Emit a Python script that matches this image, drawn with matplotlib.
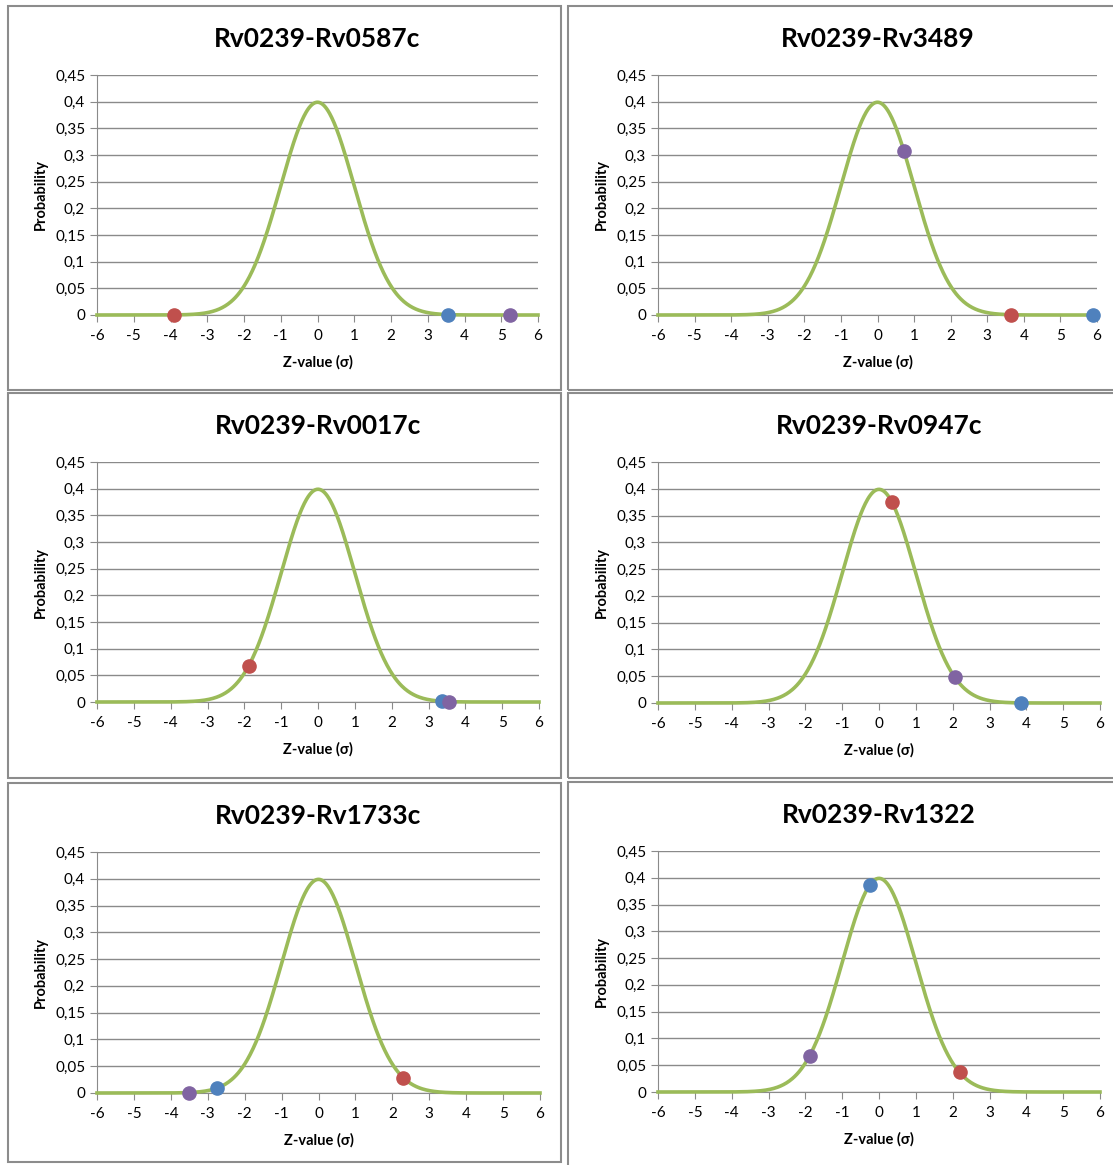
import numpy as np
import matplotlib
matplotlib.use("Agg")
import matplotlib.pyplot as plt
from matplotlib.patches import Rectangle

plt.rcParams["font.family"] = ["Lato", "DejaVu Sans"]

W, H = 1113, 1165

# panel titles, in reading order (row by row)
titles = ["Rv0239-Rv0587c", "Rv0239-Rv3489", "Rv0239-Rv0017c",
          "Rv0239-Rv0947c", "Rv0239-Rv1733c", "Rv0239-Rv1322"]

# dots: z-value and probability, per colour
blue_z   = [3.55, 5.90, 3.38, 3.85, -2.75, -0.25]
blue_p   = [0.000, 0.000, 0.002, 0.000, 0.009, 0.386]
red_z    = [-3.90, 3.65, -1.88, 0.35, 2.30, 2.20]
red_p    = [0.000, 0.000, 0.068, 0.375, 0.028, 0.038]
purple_z = [5.25, 0.73, 3.55, 2.05, -3.50, -1.87]
purple_p = [0.000, 0.307, 0.000, 0.048, 0.000, 0.068]

yticks = [0, 0.05, 0.1, 0.15, 0.2, 0.25, 0.3, 0.35, 0.4, 0.45]
ytick_labels = ["0", "0,05", "0,1", "0,15", "0,2", "0,25", "0,3", "0,35", "0,4", "0,45"]
xticks = [-6, -5, -4, -3, -2, -1, 0, 1, 2, 3, 4, 5, 6]

GREEN, BLUE, RED, PURPLE = "#9BBB59", "#4F81BD", "#C0504D", "#8064A2"

# pixel boxes: frame (x0, y0, x1, y1) and plot area (x_left, x_right, y_top, y_bottom)
frames = [(8, 6, 561, 390), (568, 6, 1118, 390),
          (8, 393, 561, 778), (568, 393, 1118, 778),
          (8, 783, 561, 1162), (568, 782, 1118, 1170)]
areas = [(97, 538, 75, 315), (658, 1097, 75, 315),
         (97, 539, 462, 702), (658, 1100, 462, 703),
         (97, 540, 852, 1093), (658, 1100, 851, 1092)]

# standard normal density (the curve every panel shows)
z = np.linspace(-6, 6, 600)
pdf = np.exp(-z ** 2 / 2) / np.sqrt(2 * np.pi)

fig = plt.figure(figsize=(W / 100, H / 100), dpi=100)

for i, t in enumerate(titles):
    fx0, fy0, fx1, fy1 = frames[i]
    fig.add_artist(Rectangle((fx0 / W, 1 - fy1 / H), (fx1 - fx0) / W, (fy1 - fy0) / H,
                             transform=fig.transFigure, fill=False, ec="#8c8c8c", lw=1.5))
    xl, xr, yt, yb = areas[i]
    ax = fig.add_axes([xl / W, 1 - yb / H, (xr - xl) / W, (yb - yt) / H])
    ax.set_xlim(-6, 6); ax.set_ylim(0, 0.45)
    ax.set_yticks(yticks); ax.set_yticklabels(ytick_labels)
    ax.set_xticks(xticks); ax.set_xticklabels([str(v) for v in xticks])
    ax.grid(axis="y", color="#8a8a8a", lw=1)
    ax.set_axisbelow(True)
    for s in ["top", "right"]:
        ax.spines[s].set_visible(False)
    for s in ["left", "bottom"]:
        ax.spines[s].set_color("#8a8a8a")
    ax.tick_params(axis="both", colors="#8a8a8a", labelcolor="black", labelsize=11,
                   length=5, direction="out")
    ax.tick_params(axis="x", pad=5)
    ax.plot(z, pdf, color=GREEN, lw=2.6, clip_on=False, zorder=3)
    for zs, ps, c in [(blue_z, blue_p, BLUE), (red_z, red_p, RED), (purple_z, purple_p, PURPLE)]:
        ax.plot(zs[i], ps[i], "o", color=c, ms=9.5, mec=c, clip_on=False, zorder=4)
    ax.set_xlabel("Z-value (σ)", fontsize=10.5, fontweight="bold", labelpad=9)
    ax.set_ylabel("Probability", fontsize=10.5, fontweight="bold", labelpad=5)
    ax.set_title(t, fontsize=19, fontweight="bold", pad=20)

fig.savefig("out.png", dpi=100)
